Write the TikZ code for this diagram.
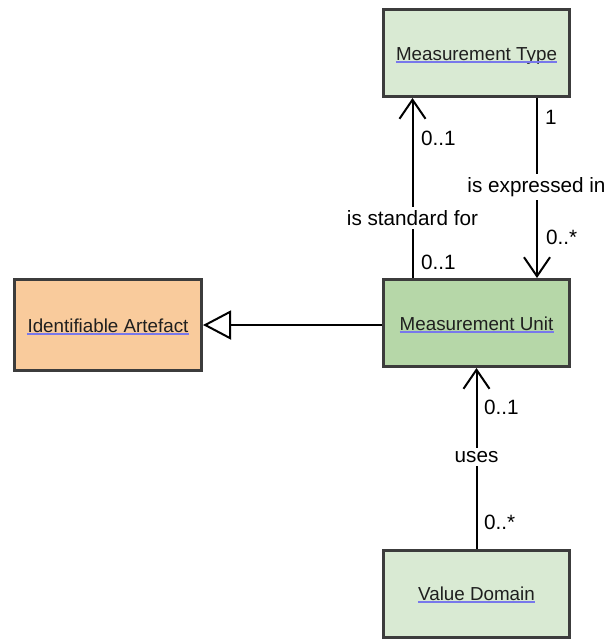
\documentclass[tikz,border=0pt]{standalone}
\usepackage{fontspec}
\setmainfont{Liberation Sans}
\usetikzlibrary{arrows.meta}
\definecolor{typegreen}{RGB}{217,234,211}
\definecolor{unitgreen}{RGB}{182,215,168}
\definecolor{artefactpeach}{RGB}{249,203,156}
\definecolor{boxedge}{RGB}{60,60,60}
\definecolor{linkblue}{RGB}{120,120,235}

\begin{document}
\begin{tikzpicture}[
  x=1pt, y=1pt,
  >={Straight Barb[length=19pt, width=26pt]},
  every node/.style={font=\fontsize{20.7}{24}\selectfont},
  classbox/.style={rectangle, draw=boxedge, line width=3pt, minimum width=186pt, minimum height=87pt, inner sep=0pt},
  classname/.style={inner sep=0pt, text=black!88, font=\fontsize{18.8}{22}\selectfont},
  linkline/.style={draw=linkblue, line width=1.1pt},
  assoc/.style={->, line width=2pt},
  genedge/.style={-{Triangle[open, fill=white, length=28pt, width=29pt]}, line width=2pt},
  rolelabel/.style={fill=white, inner sep=3.5pt},
  multlabel/.style={anchor=west, inner sep=0pt},
]
\useasboundingbox (0,0) rectangle (611,-640);

% ---- classes ----
\node[classbox, fill=typegreen] (mtype) at (476.5,-53) {};
\node[classbox, fill=unitgreen] (munit) at (476.5,-323) {};
\node[classbox, fill=typegreen] (vdomain) at (476.5,-593.5) {};
\node[classbox, fill=artefactpeach, minimum width=187pt, minimum height=91pt] (artefact) at (108,-325) {};

% ---- class names, underlined like links ----
\node[classname, anchor=base] (mtypename) at (476.5,-60) {Measurement Type};
\node[classname, anchor=base] (munitname) at (476.5,-330) {Measurement Unit};
\node[classname, anchor=base] (vdomainname) at (476.5,-600) {Value Domain};
\node[classname, anchor=base] (artefactname) at (108,-332) {Identifiable Artefact};
\draw[linkline] ([yshift=-2pt]mtypename.base west) -- ([yshift=-2pt]mtypename.base east);
\draw[linkline] ([yshift=-2pt]munitname.base west) -- ([yshift=-2pt]munitname.base east);
\draw[linkline] ([yshift=-2pt]vdomainname.base west) -- ([yshift=-2pt]vdomainname.base east);
\draw[linkline] ([yshift=-2pt]artefactname.base west) -- ([yshift=-2pt]artefactname.base east);

% ---- associations and generalisation ----
\draw[assoc] ([xshift=-64pt]munit.north) -- ([xshift=-64pt]mtype.south);
\draw[assoc] ([xshift=60.5pt]mtype.south) -- ([xshift=60.5pt]munit.north);
\draw[assoc] (vdomain.north) -- (munit.south);
\draw[genedge] (artefact.east -| munit.west) -- (artefact.east);

% ---- role names (white fill cuts the line) ----
\node[rolelabel] (stdfor) at (412.5,-218) {is standard for};
\node[rolelabel] (exprin) at (536.5,-187) {is expressed in};
\node[rolelabel] (uses) at (476.5,-457) {uses};

% ---- multiplicities ----
\node[multlabel] (stdtop) at (421,-138) {0..1};
\node[multlabel] (stdbot) at (421,-262) {0..1};
\node[multlabel] (exprtop) at (545,-117) {1};
\node[multlabel] (exprbot) at (546,-237) {0..*};
\node[multlabel] (usestop) at (484,-407) {0..1};
\node[multlabel] (usesbot) at (484,-522) {0..*};

\end{tikzpicture}
\end{document}
